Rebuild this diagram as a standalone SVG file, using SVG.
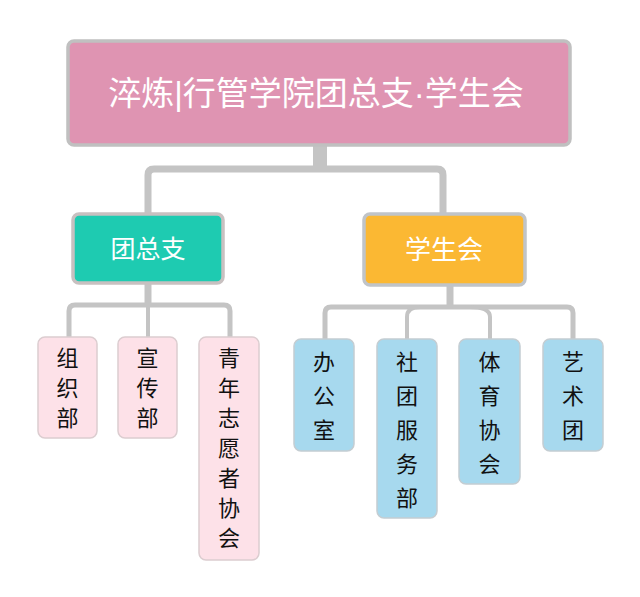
<svg xmlns="http://www.w3.org/2000/svg" width="640" height="597" viewBox="0 0 640 597">
<style>
.con{fill:none;stroke:#c4c4c4;stroke-linecap:butt;stroke-linejoin:round}
.root{fill:#df94b2;stroke:#c0c0c0;stroke-width:3.5}
.l1a{fill:#1ecbb1;stroke:#c8c0c0;stroke-width:3.5}
.l1b{fill:#fbb833;stroke:#c0c4c8;stroke-width:3.5}
.pk{fill:#fde1e8;stroke:#dccdd0;stroke-width:1.5}
.bl{fill:#a7d9ee;stroke:#c4cdd2;stroke-width:1.5}
.wt{font-family:"Noto Sans CJK SC","Noto Sans",sans-serif;fill:#ffffff;text-anchor:middle}
.lat{font-family:"Liberation Sans",sans-serif}
.bk{font-family:"Noto Sans CJK SC","Noto Sans",sans-serif;fill:#111111;text-anchor:middle;font-size:22px}
</style>
<rect width="640" height="597" fill="#ffffff"/>
<g id="connectors">
<path class="con" d="M320,146 V166" stroke-width="14"/>
<path class="con" d="M320,169 H154 Q148,169 148,175 V214" stroke-width="7"/>
<path class="con" d="M320,169 H437 Q443,169 443,175 V214" stroke-width="7"/>
<path class="con" d="M148,284 V303" stroke-width="7"/>
<path class="con" d="M148,305 H75 Q69,305 69,311 V337" stroke-width="5"/>
<path class="con" d="M148,305 H224 Q230,305 230,311 V337" stroke-width="5"/>
<path class="con" d="M148,305 V337" stroke-width="4"/>
<path class="con" d="M450,286 V305" stroke-width="7"/>
<path class="con" d="M450,307 H331 Q325,307 325,313 V339" stroke-width="5"/>
<path class="con" d="M450,307 H567 Q573,307 573,313 V339" stroke-width="5"/>
<path class="con" d="M420,307 Q407,307 407,317 V339" stroke-width="4"/>
<path class="con" d="M470,307 Q490,307 490,317 V339" stroke-width="4"/>
</g>
<g id="root">
<rect class="root" x="68" y="41" width="502" height="104" rx="6"/>
<text class="wt" x="316" y="105" font-size="33">淬炼<tspan class="lat">|</tspan>行管学院团总支<tspan class="lat">·</tspan>学生会</text>
</g>
<g id="tzz">
<rect class="l1a" x="73" y="214" width="150" height="69" rx="6"/>
<text class="wt" x="148" y="258" font-size="25">团总支</text>
</g>
<g id="xsh">
<rect class="l1b" x="364" y="214" width="161" height="71" rx="6"/>
<text class="wt" x="444" y="259" font-size="26" fill="#fff6e0">学生会</text>
</g>
<g id="zzb">
<rect class="pk" x="38" y="337" width="59" height="101" rx="7"/>
<text class="bk" x="67.5" y="366">组<tspan x="67.5" dy="30">织</tspan><tspan x="67.5" dy="30">部</tspan></text>
</g>
<g id="xcb">
<rect class="pk" x="118" y="337" width="59" height="101" rx="7"/>
<text class="bk" x="147.5" y="366">宣<tspan x="147.5" dy="30">传</tspan><tspan x="147.5" dy="30">部</tspan></text>
</g>
<g id="qnzyzxh">
<rect class="pk" x="199" y="337" width="60" height="223" rx="7"/>
<text class="bk" x="229" y="366">青<tspan x="229" dy="30">年</tspan><tspan x="229" dy="30">志</tspan><tspan x="229" dy="30">愿</tspan><tspan x="229" dy="30">者</tspan><tspan x="229" dy="30">协</tspan><tspan x="229" dy="30">会</tspan></text>
</g>
<g id="bgs">
<rect class="bl" x="294" y="339" width="60" height="112" rx="7"/>
<text class="bk" x="324" y="370">办<tspan x="324" dy="34">公</tspan><tspan x="324" dy="34">室</tspan></text>
</g>
<g id="stfwb">
<rect class="bl" x="377" y="339" width="60" height="179" rx="7"/>
<text class="bk" x="407" y="370">社<tspan x="407" dy="34">团</tspan><tspan x="407" dy="34">服</tspan><tspan x="407" dy="34">务</tspan><tspan x="407" dy="34">部</tspan></text>
</g>
<g id="tyxh">
<rect class="bl" x="459" y="339" width="61" height="145" rx="7"/>
<text class="bk" x="489.5" y="370">体<tspan x="489.5" dy="34">育</tspan><tspan x="489.5" dy="34">协</tspan><tspan x="489.5" dy="34">会</tspan></text>
</g>
<g id="yst">
<rect class="bl" x="543" y="339" width="60" height="112" rx="7"/>
<text class="bk" x="573" y="370">艺<tspan x="573" dy="34">术</tspan><tspan x="573" dy="34">团</tspan></text>
</g>
</svg>
